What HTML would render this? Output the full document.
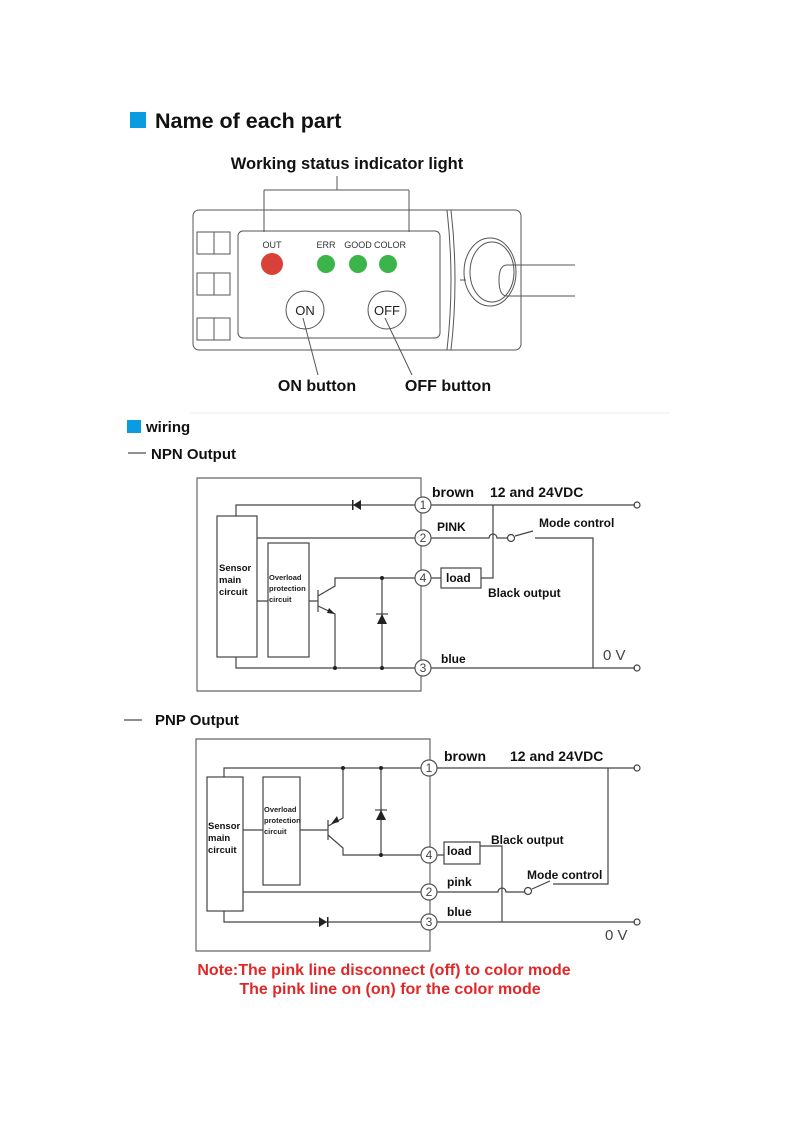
<!DOCTYPE html>
<html><head><meta charset="utf-8"><style>
html,body{margin:0;padding:0;background:#fff;}
svg{display:block;}
text{font-family:"Liberation Sans",Arial,sans-serif;}
.b{font-weight:bold;}
</style></head><body>
<svg width="793" height="1122" viewBox="0 0 793 1122" xmlns="http://www.w3.org/2000/svg">
<rect x="130" y="112" width="16" height="16" fill="#0a9be0"/>
<text x="155" y="128" class="b" font-size="21.5" fill="#111">Name of each part</text>
<text x="347" y="169" class="b" font-size="16.5" text-anchor="middle" fill="#111">Working status indicator light</text>
<g stroke="#555" stroke-width="1" fill="none">
<path d="M337 176V190M264 190H409M264 190V232M409 190V232"/>
<rect x="193" y="210" width="328" height="140" rx="6"/>
<rect x="238" y="231" width="202" height="107" rx="5"/>
<rect x="197" y="232" width="33" height="22"/><path d="M214 232V254"/>
<rect x="197" y="273" width="33" height="22"/><path d="M214 273V295"/>
<rect x="197" y="318" width="33" height="22"/><path d="M214 318V340"/>
<path d="M447 210Q455 280 447 350M451 210Q459 280 451 350M460 280H466"/>
<ellipse cx="490" cy="272" rx="26" ry="34"/>
<ellipse cx="492" cy="272" rx="22" ry="30"/>
<path d="M575 265H507Q499 265 499 280Q499 296 507 296H575"/>
<circle cx="305" cy="310" r="19"/><circle cx="387" cy="310" r="19"/>
<path d="M303 318L318 375M385 318L412 375"/>
</g>
<text x="272" y="248" font-size="9" text-anchor="middle" fill="#333">OUT</text>
<text x="326" y="248" font-size="9" text-anchor="middle" fill="#333">ERR</text>
<text x="358" y="248" font-size="9" text-anchor="middle" fill="#333">GOOD</text>
<text x="390" y="248" font-size="9" text-anchor="middle" fill="#333">COLOR</text>
<circle cx="272" cy="264" r="11" fill="#d8423a"/>
<circle cx="326" cy="264" r="9" fill="#3bb54a"/>
<circle cx="358" cy="264" r="9" fill="#3bb54a"/>
<circle cx="388" cy="264" r="9" fill="#3bb54a"/>
<text x="305" y="315" font-size="13" text-anchor="middle" fill="#222">ON</text>
<text x="387" y="315" font-size="13" text-anchor="middle" fill="#222">OFF</text>
<text x="317" y="391" class="b" font-size="16" text-anchor="middle" fill="#111">ON button</text>
<text x="448" y="391" class="b" font-size="16" text-anchor="middle" fill="#111">OFF button</text>
<path d="M190 413H670" stroke="#eee"/>
<rect x="127" y="420" width="14" height="13" fill="#0a9be0"/>
<text x="146" y="432" class="b" font-size="15" fill="#111">wiring</text>
<path d="M128 453H146" stroke="#222"/>
<text x="151" y="459" class="b" font-size="15" fill="#111">NPN Output</text>

<!-- NPN -->
<g stroke="#444" stroke-width="1.2" fill="none">
<path d="M421 478H197V691H421Z" stroke="#666"/>
<rect x="217" y="516" width="40" height="141"/>
<rect x="268" y="543" width="41" height="114"/>
<path d="M415 505H236V516M257 538H415M257 601H268M236 657V668H415"/>
<path d="M309 601H318M318 590V612M318 596L335 586V578H415M318 606L335 614V668"/>
<path d="M382 578V668"/>
<path d="M431 505H635M431 538H489A4 4 0 0 1 497 538H507M515 536L533 531M535 538H593V668M431 668H635"/>
<path d="M431 578H441M481 578H493V505"/>
<rect x="441" y="568" width="40" height="20"/>
<circle cx="637" cy="505" r="3"/><circle cx="637" cy="668" r="3"/><circle cx="511" cy="538" r="3.5"/>
</g>
<g fill="#fff" stroke="#555" stroke-width="1.2">
<circle cx="423" cy="505" r="8"/><circle cx="423" cy="538" r="8"/><circle cx="423" cy="578" r="8"/><circle cx="423" cy="668" r="8"/>
</g>
<g fill="#222"><path d="M353 505L361 500V510Z"/><rect x="352" y="500" width="1.5" height="10"/>
<path d="M382 614L377 624H387Z"/><path d="M376 614H388" stroke="#222"/>
<path d="M335 614L329 608L327 613Z"/>
<circle cx="335" cy="668" r="2"/><circle cx="382" cy="668" r="2"/><circle cx="382" cy="578" r="2"/></g>
<g font-size="12" fill="#444" text-anchor="middle"><text x="423" y="509">1</text><text x="423" y="542">2</text><text x="423" y="582">4</text><text x="423" y="672">3</text></g>
<text x="432" y="497" class="b" font-size="14" fill="#111">brown</text>
<text x="490" y="497" class="b" font-size="14" fill="#111">12 and 24VDC</text>
<text x="437" y="531" class="b" font-size="12" fill="#111">PINK</text>
<text x="539" y="527" class="b" font-size="12" fill="#111">Mode control</text>
<text x="446" y="582" class="b" font-size="12" fill="#111">load</text>
<text x="488" y="597" class="b" font-size="12" fill="#111">Black output</text>
<text x="441" y="663" class="b" font-size="12" fill="#111">blue</text>
<text x="603" y="660" font-size="15" fill="#444">0 V</text>
<g class="b" font-size="9.5" fill="#111"><text x="219" y="571">Sensor</text><text x="219" y="583">main</text><text x="219" y="595">circuit</text></g>
<g class="b" font-size="7.5" fill="#222"><text x="269" y="580">Overload</text><text x="269" y="591">protection</text><text x="269" y="602">circuit</text></g>

<path d="M124 720H142" stroke="#222"/>
<text x="155" y="725" class="b" font-size="15" fill="#111">PNP Output</text>

<!-- PNP -->
<g stroke="#444" stroke-width="1.2" fill="none">
<path d="M430 739H196V951H430Z" stroke="#666"/>
<rect x="207" y="777" width="36" height="134"/>
<rect x="263" y="777" width="37" height="108"/>
<path d="M421 768H224V777M243 892H421M243 830H263M224 911V922H421"/>
<path d="M300 830H328M328 820V840M328 826L343 818V768M328 835L343 848V855H421"/>
<path d="M381 768V855"/>
<path d="M437 768H635M608 768V884H553M437 892H498A4 4 0 0 1 506 892H525M532 889L550 881M437 922H635"/>
<path d="M437 855H444M480 846H502V922"/>
<rect x="444" y="842" width="36" height="22"/>
<circle cx="637" cy="768" r="3"/><circle cx="637" cy="922" r="3"/><circle cx="528" cy="891" r="3.5"/>
</g>
<g fill="#fff" stroke="#555" stroke-width="1.2">
<circle cx="429" cy="768" r="8"/><circle cx="429" cy="855" r="8"/><circle cx="429" cy="892" r="8"/><circle cx="429" cy="922" r="8"/>
</g>
<g fill="#222"><path d="M327 922L319 917V927Z"/><rect x="327" y="917" width="1.5" height="10"/>
<path d="M381 810L376 820H386Z"/><path d="M375 810H387" stroke="#222"/>
<path d="M331 824L337 816L339 822Z"/>
<circle cx="343" cy="768" r="2"/><circle cx="381" cy="768" r="2"/><circle cx="381" cy="855" r="2"/></g>
<g font-size="12" fill="#444" text-anchor="middle"><text x="429" y="772">1</text><text x="429" y="859">4</text><text x="429" y="896">2</text><text x="429" y="926">3</text></g>
<text x="444" y="761" class="b" font-size="14" fill="#111">brown</text>
<text x="510" y="761" class="b" font-size="14" fill="#111">12 and 24VDC</text>
<text x="491" y="844" class="b" font-size="12" fill="#111">Black output</text>
<text x="447" y="855" class="b" font-size="12" fill="#111">load</text>
<text x="527" y="879" class="b" font-size="12" fill="#111">Mode control</text>
<text x="447" y="886" class="b" font-size="12" fill="#111">pink</text>
<text x="447" y="916" class="b" font-size="12" fill="#111">blue</text>
<text x="605" y="940" font-size="15" fill="#444">0 V</text>
<g class="b" font-size="9.5" fill="#111"><text x="208" y="829">Sensor</text><text x="208" y="841">main</text><text x="208" y="853">circuit</text></g>
<g class="b" font-size="7.5" fill="#222"><text x="264" y="812">Overload</text><text x="264" y="823">protection</text><text x="264" y="834">circuit</text></g>

<text x="384" y="975" class="b" font-size="16" text-anchor="middle" fill="#e02828">Note:The pink line disconnect (off) to color mode</text>
<text x="390" y="994" class="b" font-size="16" text-anchor="middle" fill="#e02828">The pink line on (on) for the color mode</text>
</svg>
</body></html>
